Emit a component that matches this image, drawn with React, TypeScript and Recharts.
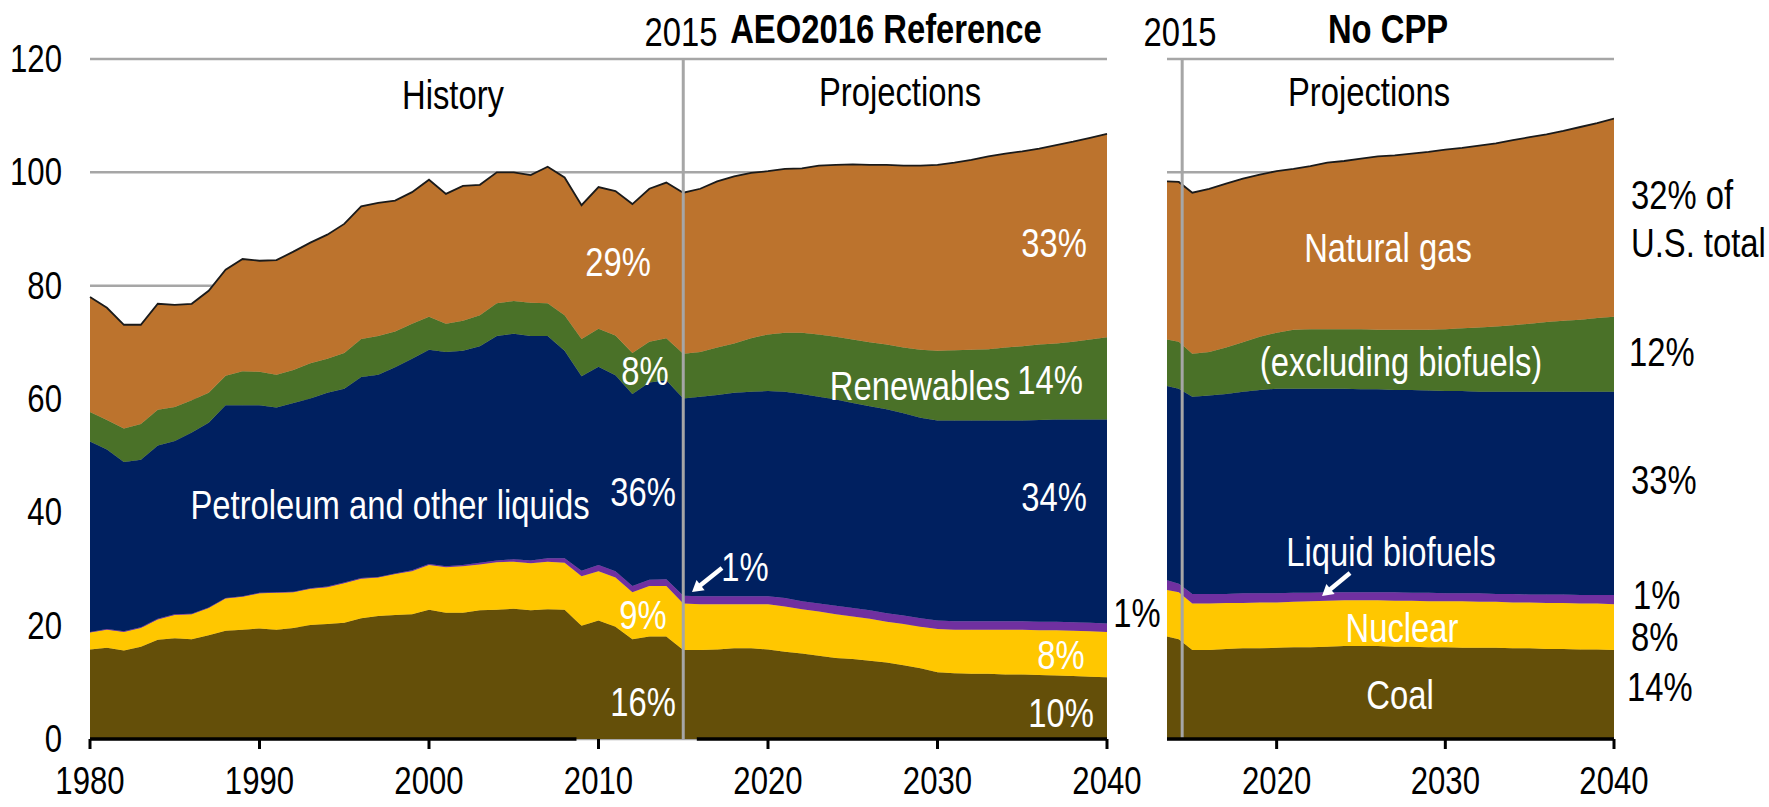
import React from 'react';
import { AreaChart, Area, XAxis, YAxis, CartesianGrid, ReferenceLine } from 'recharts';

// ---------- DATA (quadrillion Btu) ----------
const leftYears = [
  1980, 1981, 1982, 1983, 1984, 1985, 1986, 1987, 1988, 1989,
  1990, 1991, 1992, 1993, 1994, 1995, 1996, 1997, 1998, 1999,
  2000, 2001, 2002, 2003, 2004, 2005, 2006, 2007, 2008, 2009,
  2010, 2011, 2012, 2013, 2014, 2015, 2016, 2017, 2018, 2019,
  2020, 2021, 2022, 2023, 2024, 2025, 2026, 2027, 2028, 2029,
  2030, 2031, 2032, 2033, 2034, 2035, 2036, 2037, 2038, 2039, 2040,
];
const leftCoal = [
  15.8, 16.1, 15.6, 16.3, 17.5, 17.8, 17.6, 18.3, 19.1, 19.3,
  19.5, 19.3, 19.6, 20.1, 20.3, 20.5, 21.3, 21.7, 21.9, 22.0,
  22.8, 22.3, 22.3, 22.7, 22.8, 23.0, 22.7, 22.9, 22.8, 20.0,
  20.9, 19.8, 17.6, 18.1, 18.1, 15.7, 15.7, 15.8, 16.0, 16.0,
  15.8, 15.4, 15.1, 14.7, 14.3, 14.1, 13.8, 13.5, 13.0, 12.5,
  11.8, 11.6, 11.5, 11.5, 11.4, 11.4, 11.3, 11.2, 11.1, 11.0, 10.9,
];
const leftNuclear = [
  3.0, 3.2, 3.3, 3.3, 3.6, 4.1, 4.4, 4.8, 5.7, 5.8,
  6.2, 6.5, 6.3, 6.4, 6.5, 7.0, 7.0, 6.8, 7.2, 7.6,
  7.9, 8.0, 8.2, 8.1, 8.4, 8.3, 8.3, 8.4, 8.3, 8.7,
  8.7, 8.7, 8.3, 8.9, 8.9, 8.2, 8.1, 8.0, 7.8, 7.8,
  8.0, 8.0, 7.8, 7.8, 7.7, 7.5, 7.4, 7.2, 7.3, 7.3,
  7.6, 7.7, 7.8, 7.8, 7.9, 7.9, 7.9, 8.0, 8.0, 8.0, 8.0,
];
const leftBiofuels = [
  0.1, 0.1, 0.1, 0.1, 0.1, 0.1, 0.1, 0.1, 0.1, 0.1,
  0.1, 0.1, 0.1, 0.1, 0.1, 0.1, 0.1, 0.1, 0.1, 0.2,
  0.2, 0.2, 0.2, 0.3, 0.3, 0.4, 0.5, 0.6, 0.8, 1.0,
  1.1, 1.1, 1.1, 1.1, 1.2, 1.4, 1.4, 1.4, 1.4, 1.4,
  1.4, 1.5, 1.4, 1.4, 1.5, 1.5, 1.5, 1.5, 1.5, 1.5,
  1.5, 1.5, 1.5, 1.5, 1.5, 1.5, 1.5, 1.5, 1.5, 1.5, 1.5,
];
const leftPetroleum = [
  33.6, 31.7, 29.9, 29.6, 30.6, 30.6, 32.0, 32.6, 34.0, 33.7,
  33.1, 32.6, 33.3, 33.5, 34.2, 34.2, 35.5, 35.7, 36.4, 37.3,
  37.8, 37.8, 37.8, 38.2, 39.6, 39.8, 39.6, 39.2, 36.6, 34.3,
  35.0, 34.6, 33.9, 34.8, 35.1, 34.8, 35.2, 35.5, 35.9, 36.1,
  36.2, 36.4, 36.6, 36.5, 36.4, 36.2, 36.0, 36.0, 35.7, 35.4,
  35.3, 35.4, 35.4, 35.4, 35.4, 35.4, 35.6, 35.7, 35.8, 35.9, 36.0,
];
const leftRenewables = [
  5.2, 5.2, 5.9, 6.3, 6.3, 6.0, 5.7, 5.3, 5.2, 6.0,
  5.9, 5.8, 5.8, 6.2, 6.0, 6.3, 6.7, 6.8, 6.3, 6.2,
  5.8, 5.0, 5.3, 5.5, 5.8, 5.8, 5.9, 5.8, 6.3, 6.6,
  6.7, 7.0, 7.2, 7.2, 7.4, 7.9, 7.9, 8.4, 8.7, 9.4,
  10.0, 10.4, 10.8, 11.0, 11.1, 11.2, 11.3, 11.4, 11.6, 12.0,
  12.3, 12.4, 12.5, 12.6, 12.9, 13.1, 13.3, 13.4, 13.7, 14.1, 14.5,
];
const leftGas = [
  20.3, 19.8, 18.3, 17.5, 18.7, 18.0, 17.0, 18.0, 18.7, 19.8,
  19.6, 20.2, 20.9, 21.3, 21.9, 22.8, 23.4, 23.5, 23.1, 23.2,
  24.2, 22.9, 23.8, 23.0, 23.1, 22.7, 22.5, 24.1, 24.3, 23.6,
  25.0, 25.5, 26.3, 27.0, 27.5, 28.4, 28.8, 29.3, 29.5, 29.2,
  28.8, 28.9, 29.0, 29.8, 30.3, 30.9, 31.3, 31.7, 32.1, 32.5,
  32.8, 33.1, 33.5, 34.0, 34.2, 34.4, 34.6, 35.0, 35.3, 35.6, 35.9,
];

const rightYears = [
  2013.5, 2014.2, 2015, 2016, 2017, 2018, 2019, 2020, 2021, 2022,
  2023, 2024, 2025, 2026, 2027, 2028, 2029, 2030, 2031, 2032,
  2033, 2034, 2035, 2036, 2037, 2038, 2039, 2040,
];
const rightCoal = [
  18.1, 17.6, 15.7, 15.7, 15.9, 16.0, 16.0, 16.1, 16.2, 16.2,
  16.3, 16.4, 16.4, 16.4, 16.3, 16.3, 16.2, 16.2, 16.1, 16.1,
  16.1, 16.0, 16.0, 15.9, 15.9, 15.8, 15.8, 15.7,
];
const rightNuclear = [
  8.2, 8.3, 8.2, 8.2, 8.1, 8.0, 8.1, 8.0, 8.0, 8.1,
  8.1, 8.1, 8.1, 8.1, 8.1, 8.1, 8.1, 8.1, 8.2, 8.1,
  8.1, 8.1, 8.1, 8.1, 8.1, 8.1, 8.1, 8.1,
];
const rightBiofuels = [
  1.7, 1.5, 1.7, 1.7, 1.6, 1.7, 1.6, 1.6, 1.6, 1.5,
  1.5, 1.4, 1.4, 1.4, 1.5, 1.4, 1.5, 1.4, 1.4, 1.5,
  1.4, 1.5, 1.4, 1.5, 1.5, 1.5, 1.5, 1.6,
];
const rightPetroleum = [
  34.3, 34.4, 34.8, 35.0, 35.3, 35.6, 35.9, 36.1, 36.0, 36.0,
  35.9, 35.9, 35.8, 35.8, 35.7, 35.8, 35.7, 35.7, 35.7, 35.6,
  35.7, 35.7, 35.8, 35.8, 35.8, 35.9, 35.9, 35.9,
];
const rightRenewables = [
  8.2, 8.3, 7.6, 7.7, 8.2, 8.7, 9.4, 9.9, 10.4, 10.5,
  10.5, 10.5, 10.6, 10.5, 10.6, 10.6, 10.7, 10.9, 11.1, 11.3,
  11.5, 11.7, 12.0, 12.3, 12.5, 12.7, 13.0, 13.2,
];
const rightGas = [
  27.9, 28.2, 28.4, 28.8, 28.9, 28.9, 28.6, 28.5, 28.4, 28.8,
  29.4, 29.7, 30.1, 30.6, 30.8, 31.1, 31.4, 31.7, 31.8, 32.1,
  32.3, 32.7, 32.9, 33.1, 33.5, 34.0, 34.4, 35.0,
];

const yTicks = [0, 20, 40, 60, 80, 100, 120];
const leftXTicks = [1980, 1990, 2000, 2010, 2020, 2030, 2040];
const rightXTicks = [2020, 2030, 2040];
const HISTORY_END = 2015;
const NOCPP_DIVIDER = 2014.4;
const AXIS_GAP = [2008.7, 2015.8];

// ---------- STYLE ----------
const FONT = "'Liberation Sans', Arial, sans-serif";
const FS_TICK = 38;
const FS_LABEL = 40;
const NARROW = 0.82;
const COLORS = {
  coal: '#644F09',
  nuclear: '#FFC700',
  biofuels: '#7030A0',
  petroleum: '#002060',
  renewables: '#4A7128',
  gas: '#BC732D',
};
const GRID = '#A6A6A6';

const build = (years: number[], c: number[], n: number[], b: number[], p: number[], r: number[], g: number[]) =>
  years.map((year, i) => ({
    year,
    coal: c[i],
    nuclear: n[i],
    biofuels: b[i],
    petroleum: p[i],
    renewables: r[i],
    gas: g[i],
  }));

const leftData = build(leftYears, leftCoal, leftNuclear, leftBiofuels, leftPetroleum, leftRenewables, leftGas);
const rightData = build(rightYears, rightCoal, rightNuclear, rightBiofuels, rightPetroleum, rightRenewables, rightGas);

const series: { key: keyof typeof COLORS }[] = [
  { key: 'coal' },
  { key: 'nuclear' },
  { key: 'biofuels' },
  { key: 'petroleum' },
  { key: 'renewables' },
  { key: 'gas' },
];

const renderAreas = () =>
  series.map((s) => (
    <Area
      key={s.key}
      type="linear"
      dataKey={s.key}
      stackId="1"
      fill={COLORS[s.key]}
      fillOpacity={1}
      stroke={s.key === 'gas' ? '#1a1a1a' : COLORS[s.key]}
      strokeWidth={s.key === 'gas' ? 1.8 : 0.6}
      isAnimationActive={false}
      dot={false}
      activeDot={false}
    />
  ));

// Narrow text: Liberation Sans compressed horizontally (Arial Narrow look)
const NText = ({
  x,
  y,
  children,
  anchor = 'middle',
  fill = '#000',
  bold = false,
  size = FS_LABEL,
}: {
  x: number;
  y: number;
  children: React.ReactNode;
  anchor?: 'start' | 'middle' | 'end';
  fill?: string;
  bold?: boolean;
  size?: number;
}) => (
  <text
    transform={`translate(${x},${y}) scale(${NARROW},1)`}
    x={0}
    y={0}
    textAnchor={anchor}
    dominantBaseline="central"
    fontFamily={FONT}
    fontSize={size}
    fontWeight={bold ? 'bold' : 'normal'}
    fill={fill}
  >
    {children}
  </text>
);

const XTick = (props: any) => {
  const { x, y, payload } = props;
  return (
    <NText x={x} y={y + FS_TICK * 0.36} anchor="middle" size={FS_TICK}>
      {payload.value}
    </NText>
  );
};

const YTick = (props: any) => {
  const { x, y, payload } = props;
  return (
    <NText x={x} y={y} anchor="end" size={FS_TICK}>
      {payload.value}
    </NText>
  );
};

type Lbl = { x: number; y: number; t: string; anchor?: 'start' | 'middle' | 'end'; fill?: string; bold?: boolean };
const labels: Lbl[] = [
  { x: 681, y: 32, t: '2015' },
  { x: 886, y: 29, t: 'AEO2016 Reference', bold: true },
  { x: 1180, y: 32, t: '2015' },
  { x: 1388, y: 29, t: 'No CPP', bold: true },
  { x: 453, y: 95, t: 'History' },
  { x: 900, y: 92, t: 'Projections' },
  { x: 1369, y: 92, t: 'Projections' },
  { x: 618, y: 262, t: '29%', fill: '#fff' },
  { x: 645, y: 371, t: '8%', fill: '#fff' },
  { x: 390, y: 505, t: 'Petroleum and other liquids', fill: '#fff' },
  { x: 643, y: 492, t: '36%', fill: '#fff' },
  { x: 643, y: 615, t: '9%', fill: '#fff' },
  { x: 643, y: 702, t: '16%', fill: '#fff' },
  { x: 1054, y: 243, t: '33%', fill: '#fff' },
  { x: 920, y: 386, t: 'Renewables', fill: '#fff' },
  { x: 1050, y: 380, t: '14%', fill: '#fff' },
  { x: 1054, y: 497, t: '34%', fill: '#fff' },
  { x: 745, y: 567, t: '1%', fill: '#fff' },
  { x: 1061, y: 655, t: '8%', fill: '#fff' },
  { x: 1061, y: 713, t: '10%', fill: '#fff' },
  { x: 1388, y: 248, t: 'Natural gas', fill: '#fff' },
  { x: 1401, y: 362, t: '(excluding biofuels)', fill: '#fff' },
  { x: 1391, y: 552, t: 'Liquid biofuels', fill: '#fff' },
  { x: 1402, y: 628, t: 'Nuclear', fill: '#fff' },
  { x: 1400, y: 695, t: 'Coal', fill: '#fff' },
  { x: 1137, y: 613, t: '1%' },
  { x: 1631, y: 195, t: '32% of', anchor: 'start' },
  { x: 1631, y: 243, t: 'U.S. total', anchor: 'start' },
  { x: 1629, y: 352, t: '12%', anchor: 'start' },
  { x: 1631, y: 480, t: '33%', anchor: 'start' },
  { x: 1633, y: 595, t: '1%', anchor: 'start' },
  { x: 1631, y: 637, t: '8%', anchor: 'start' },
  { x: 1627, y: 687, t: '14%', anchor: 'start' },
];

const arrows = [
  { x1: 722, y1: 568, x2: 692, y2: 592 },
  { x1: 1350, y1: 573, x2: 1322, y2: 596 },
];

const Arrow = ({ x1, y1, x2, y2 }: { x1: number; y1: number; x2: number; y2: number }) => {
  const dx = x2 - x1;
  const dy = y2 - y1;
  const len = Math.sqrt(dx * dx + dy * dy);
  const ux = dx / len;
  const uy = dy / len;
  const hl = 11;
  const hw = 6.5;
  const bx = x2 - ux * hl;
  const by = y2 - uy * hl;
  const pts = `${x2},${y2} ${bx - uy * hw},${by + ux * hw} ${bx + uy * hw},${by - ux * hw}`;
  return (
    <g>
      <line x1={x1} y1={y1} x2={bx + ux} y2={by + uy} stroke="#fff" strokeWidth={4.5} />
      <polygon points={pts} fill="#fff" />
    </g>
  );
};

export default function App() {
  return (
    <div style={{ position: 'absolute', left: 0, top: 0, width: 1769, height: 807, background: '#fff', overflow: 'hidden' }}>
      <div style={{ position: 'absolute', left: 0, top: 0 }}>
        <AreaChart width={1160} height={807} data={leftData} margin={{ top: 59, right: 53, bottom: 8, left: 0 }}>
          <CartesianGrid horizontal vertical={false} stroke={GRID} strokeWidth={2.5} />
          <XAxis
            dataKey="year"
            type="number"
            domain={[1980, 2040]}
            ticks={leftXTicks}
            height={60}
            axisLine={false}
            tickLine={{ stroke: '#000', strokeWidth: 3 }}
            tickSize={10}
            tickMargin={18}
            tick={<XTick />}
            interval={0}
          />
          <YAxis
            type="number"
            domain={[0, 120]}
            ticks={yTicks}
            width={90}
            axisLine={false}
            tickLine={false}
            tickSize={0}
            tickMargin={28}
            tick={<YTick />}
            interval={0}
          />
          {renderAreas()}
          <ReferenceLine x={HISTORY_END} stroke={GRID} strokeWidth={3} />
          <ReferenceLine segment={[{ x: 1980, y: 0 }, { x: AXIS_GAP[0], y: 0 }]} stroke="#000" strokeWidth={3.5} ifOverflow="visible" />
          <ReferenceLine segment={[{ x: AXIS_GAP[1], y: 0 }, { x: 2040, y: 0 }]} stroke="#000" strokeWidth={3.5} ifOverflow="visible" />
        </AreaChart>
      </div>
      <div style={{ position: 'absolute', left: 1130, top: 0 }}>
        <AreaChart width={639} height={807} data={rightData} margin={{ top: 59, right: 155, bottom: 8, left: 37 }}>
          <CartesianGrid horizontal vertical={false} stroke={GRID} strokeWidth={2.5} />
          <XAxis
            dataKey="year"
            type="number"
            domain={[2013.5, 2040]}
            ticks={rightXTicks}
            height={60}
            axisLine={{ stroke: '#000', strokeWidth: 3.5 }}
            tickLine={{ stroke: '#000', strokeWidth: 3 }}
            tickSize={10}
            tickMargin={18}
            tick={<XTick />}
            interval={0}
            allowDataOverflow
          />
          <YAxis hide type="number" domain={[0, 120]} ticks={yTicks} width={0} />
          {renderAreas()}
          <ReferenceLine x={NOCPP_DIVIDER} stroke={GRID} strokeWidth={3} />
        </AreaChart>
      </div>
      <svg
        width={1769}
        height={807}
        style={{ position: 'absolute', left: 0, top: 0, pointerEvents: 'none' }}
      >
        {arrows.map((a, i) => (
          <Arrow key={i} {...a} />
        ))}
        {labels.map((l, i) => (
          <NText key={i} x={l.x} y={l.y} anchor={l.anchor} fill={l.fill} bold={l.bold}>
            {l.t}
          </NText>
        ))}
      </svg>
    </div>
  );
}
